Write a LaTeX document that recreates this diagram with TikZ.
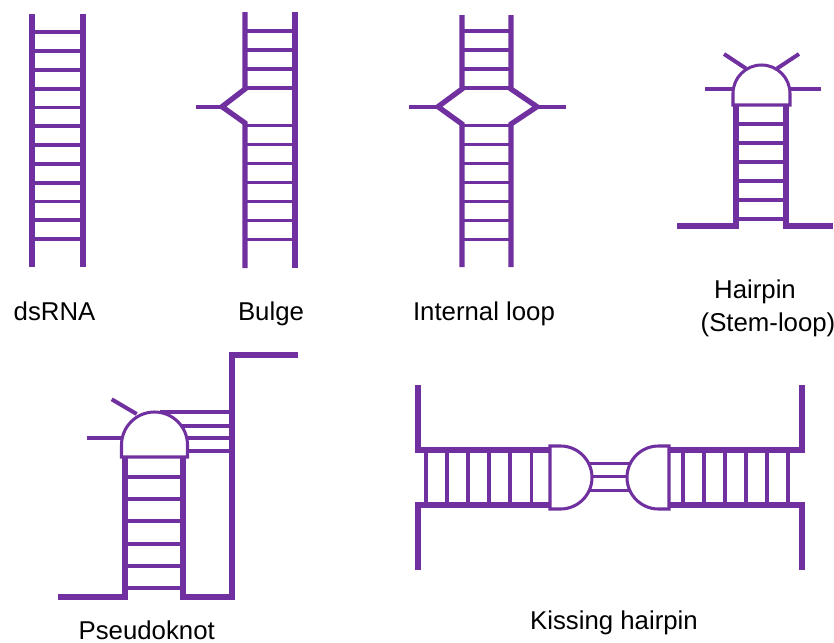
\documentclass[tikz,border=0pt]{standalone}
\usepackage{fontspec}
\setmainfont{Liberation Sans}
\usepackage{xcolor}
\usepackage{tikz}
\definecolor{rnapurple}{RGB}{112,48,160}
\tikzstyle{strand}   = [draw=rnapurple, line width=4.5pt]
\tikzstyle{pair}     = [draw=rnapurple, line width=3.4pt]
\tikzstyle{loopline} = [draw=rnapurple, line width=2.6pt]
\tikzstyle{rnalabel} = [anchor=base, inner sep=0pt, font=\fontsize{22}{26}\selectfont]
\tikzset{every node/.style={align=center}}

\begin{document}
\begin{tikzpicture}[x=0.03cm, y=0.03cm]
    \useasboundingbox (0,0) rectangle (834,-643);

    % dsRNA
    \draw [strand] (32,-14) -- (32,-267);
    \draw [strand] (83,-14) -- (83,-267);
    \foreach \k in {0,...,11}
        \draw [pair] (32,{-32.3-18.8*\k}) -- (83,{-32.3-18.8*\k});

    % bulge
    \draw [strand] (295,-12) -- (295,-268);
    \draw [strand] (245,-12) -- (245,-89) -- (222,-106.7) -- (245,-123) -- (245,-268);
    \draw [pair]   (196,-106.7) -- (222,-106.7);
    \foreach \y in {31,50,69,88}
        \draw [pair] (245,-\y) -- (295,-\y);
    \foreach \k in {0,...,6}
        \draw [pair] (245,{-125.5-19*\k}) -- (295,{-125.5-19*\k});

    % internal loop
    \draw [strand] (462,-15) -- (462,-89) -- (438,-106.7) -- (462,-124) -- (462,-267);
    \draw [strand] (511,-15) -- (511,-89) -- (537,-106.7) -- (511,-124) -- (511,-267);
    \draw [pair]   (409,-106.7) -- (438,-106.7);
    \draw [pair]   (537,-106.7) -- (566,-106.7);
    \foreach \y in {31,50,69,88}
        \draw [pair] (462,-\y) -- (511,-\y);
    \foreach \k in {0,...,6}
        \draw [pair] (462,{-125.5-19*\k}) -- (511,{-125.5-19*\k});

    % hairpin
    \draw [strand] (677,-226) -- (736,-226) -- (736,-105);
    \draw [strand] (786,-105) -- (786,-226) -- (833,-226);
    \foreach \k in {0,...,5}
        \draw [pair] (736,{-124-19*\k}) -- (786,{-124-19*\k});
    \draw [loopline] (733,-105) -- (733,-93.5) arc (180:0:28.5) -- (790,-105) -- cycle;
    \draw [pair] (705,-89.3) -- (733,-89.3);
    \draw [pair] (790,-89.3) -- (821,-89.3);
    \draw [pair] (724,-54) -- (746,-68.5);
    \draw [pair] (777,-68.5) -- (799,-54);

    % pseudoknot
    \draw [strand] (58,-597) -- (125,-597) -- (125,-457);
    \draw [strand] (183,-457) -- (183,-597) -- (232,-597) -- (232,-355) -- (298,-355);
    \foreach \k in {0,...,5}
        \draw [pair] (125,{-477-22.2*\k}) -- (183,{-477-22.2*\k});
    \draw [loopline] (121.5,-457) -- (121.5,-445) arc (180:0:33) -- (187.5,-457) -- cycle;
    \draw [pair] (160,-412.3) -- (232,-412.3);
    \draw [pair] (181,-425.7) -- (232,-425.7);
    \draw [pair] (187,-438.3) -- (232,-438.3);
    \draw [pair] (187.5,-450.7) -- (232,-450.7);
    \draw [pair] (111.7,-399.3) -- (136.7,-414);
    \draw [pair] (86.7,-438.3) -- (121.5,-438.3);

    % kissing hairpin
    \draw [strand] (418,-385) -- (418,-450) -- (550,-450);
    \draw [strand] (418,-570) -- (418,-505) -- (550,-505);
    \draw [strand] (802,-385) -- (802,-450) -- (669,-450);
    \draw [strand] (802,-570) -- (802,-505) -- (669,-505);
    \foreach \k in {0,...,5} {
        \draw [pair] ({426+21.1*\k},-450) -- ({426+21.1*\k},-505);
        \draw [pair] ({682.7+21.1*\k},-450) -- ({682.7+21.1*\k},-505);
    }
    \draw [loopline] (550,-446) -- (560.5,-446) arc (90:-90:31.5) -- (550,-509) -- cycle;
    \draw [loopline] (669,-446) -- (658.5,-446) arc (90:270:31.5) -- (669,-509) -- cycle;
    \draw [loopline] (588.6,-463.3) -- (630.9,-463.3);
    \draw [loopline] (592,-476.7) -- (627.5,-476.7);
    \draw [loopline] (589.1,-490.7) -- (630.4,-490.7);

    % captions
    \node (ds)      at (54.5,-320)  [rnalabel] {dsRNA};
    \node (bulge)   at (271,-320)   [rnalabel] {Bulge};
    \node (inner)   at (484,-320)   [rnalabel] {Internal loop};
    \node (hairpin) at (755,-298)   [rnalabel] {Hairpin};
    \node (stem)    at (768,-331)   [rnalabel] {(Stem-loop)};
    \node (pknot)   at (146.7,-639) [rnalabel] {Pseudoknot};
    \node (kiss)    at (614,-629)   [rnalabel] {Kissing hairpin};
\end{tikzpicture}
\end{document}
